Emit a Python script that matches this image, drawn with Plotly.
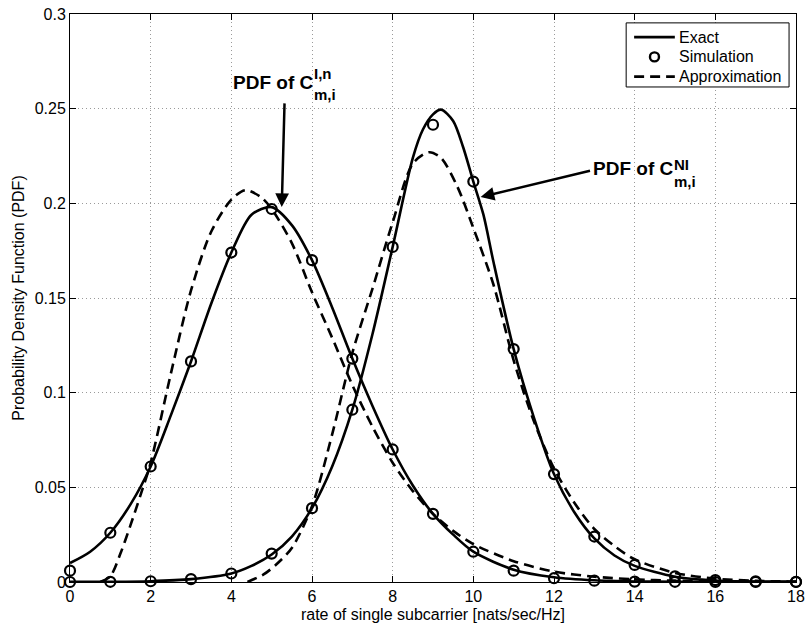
import plotly.graph_objects as go

# ---------------- data ----------------
x_sim = [0, 1, 2, 3, 4, 5, 6, 7, 8, 9, 10, 11, 12, 13, 14, 15, 16, 17, 18]
sim_in = [0.006, 0.026, 0.061, 0.1165, 0.174, 0.197, 0.170, 0.118, 0.070, 0.036,
          0.016, 0.006, 0.002, 0.0007, 0.0002, 0.0001, 0.0, 0.0, 0.0]
sim_ni = [0.0, 0.0001, 0.0004, 0.0015, 0.0045, 0.015, 0.039, 0.091, 0.177, 0.2415,
          0.2115, 0.123, 0.057, 0.024, 0.009, 0.003, 0.001, 0.0003, 0.0001]

x_ex_in = [0, 0.5, 1, 1.5, 2, 2.5, 3, 3.5, 4, 4.5, 5, 5.5, 6, 6.5, 7, 7.5, 8, 8.5,
           9, 9.5, 10, 11, 12, 13, 14, 15, 16, 17, 18]
ex_in = [0.010, 0.016, 0.026, 0.041, 0.061, 0.088, 0.1165, 0.147, 0.174, 0.194,
         0.198, 0.1885, 0.170, 0.145, 0.118, 0.093, 0.070, 0.051, 0.036, 0.025,
         0.016, 0.0065, 0.0025, 0.0009, 0.0003, 0.0001, 0.00003, 0.00001, 0.0]

x_ap_in = [0.75, 1.0, 1.25, 1.5, 1.75, 2.0, 2.5, 3.0, 3.5, 4.0, 4.35, 4.75, 5.0, 5.5,
           6.0, 6.5, 7.0, 7.5, 8.0, 8.5, 9.0, 9.5, 10, 11, 12, 13, 14, 15, 16, 17, 18]
ap_in = [0.0, 0.003, 0.015, 0.030, 0.046, 0.063, 0.110, 0.154, 0.185, 0.202, 0.207,
         0.203, 0.197, 0.179, 0.153, 0.129, 0.104, 0.082, 0.063, 0.048, 0.036, 0.027,
         0.020, 0.011, 0.0055, 0.0028, 0.0014, 0.0007, 0.0003, 0.0001, 0.00005]

x_ex_ni = [0, 1, 2, 3, 4, 4.5, 5, 5.5, 6, 6.5, 7, 7.5, 8, 8.5, 8.75, 9, 9.2, 9.5,
           9.75, 10, 10.25, 10.5, 11, 11.5, 12, 12.5, 13, 13.5, 14, 15, 16, 17, 18]
ex_ni = [0.00005, 0.0001, 0.0004, 0.0015, 0.0045, 0.0085, 0.0145, 0.024, 0.039,
         0.061, 0.091, 0.131, 0.177, 0.224, 0.239, 0.247, 0.2495, 0.2435, 0.2295,
         0.2115, 0.194, 0.169, 0.123, 0.087, 0.057, 0.037, 0.023, 0.014, 0.0085,
         0.0028, 0.0008, 0.0002, 0.00005]

x_ap_ni = [4.4, 4.8, 5.1, 5.5, 6.0, 6.5, 7.0, 7.5, 8.0, 8.5, 8.9, 9.2, 9.6,
           10.0, 10.5, 11.0, 11.5, 12.0, 12.5, 13.0, 13.5, 14, 15, 16, 17, 18]
ap_ni = [0.0, 0.004, 0.009, 0.018, 0.040, 0.078, 0.121, 0.155, 0.190,
         0.221, 0.227, 0.224, 0.209, 0.187, 0.157, 0.117, 0.085, 0.060, 0.042,
         0.028, 0.019, 0.012, 0.0048, 0.0018, 0.0006, 0.0002]

x_ticks = [0, 2, 4, 6, 8, 10, 12, 14, 16, 18]
y_ticks = [0, 0.05, 0.1, 0.15, 0.2, 0.25, 0.3]
y_tick_text = ["0", "0.05", "0.1", "0.15", "0.2", "0.25", "0.3"]

legend_names = ["Exact", "Simulation", "Approximation"]
x_label = "rate of single subcarrier [nats/sec/Hz]"
y_label = "Probability Density Function (PDF)"

# ---------------- figure ----------------
FONT = "Liberation Sans, Arial, Helvetica, sans-serif"
LW = 2.6
DASH = "10px,6px"
ML, MR, MT, MB, W, H = 70, 10, 6, 50, 811, 632
PW, PH = W - ML - MR, H - MT - MB


def px_x(p):
    return (p - ML) / PW


def px_y(p):
    return (H - MB - p) / PH


fig = go.Figure()

for xs, ys in [(x_ex_in, ex_in), (x_ex_ni, ex_ni)]:
    fig.add_trace(go.Scatter(
        x=xs, y=ys, mode="lines", name=legend_names[0], showlegend=False,
        line=dict(color="black", width=LW, shape="spline", smoothing=0.8)))

for ys in [sim_in, sim_ni]:
    fig.add_trace(go.Scatter(
        x=x_sim, y=ys, mode="markers", name=legend_names[1], showlegend=False,
        cliponaxis=False,
        marker=dict(symbol="circle-open", size=10, color="black",
                    line=dict(color="black", width=2.2))))

for xs, ys in [(x_ap_in, ap_in), (x_ap_ni, ap_ni)]:
    fig.add_trace(go.Scatter(
        x=xs, y=ys, mode="lines", name=legend_names[2], showlegend=False,
        line=dict(color="black", width=LW, dash=DASH, shape="spline",
                  smoothing=0.8)))

# arrows
fig.add_annotation(x=5.25, y=0.198, ax=5.32, ay=0.2536, axref="x", ayref="y",
                   xref="x", yref="y", text="", showarrow=True, arrowhead=2,
                   arrowsize=1.1, arrowwidth=2.5, arrowcolor="black")
fig.add_annotation(x=10.18, y=0.2033, ax=12.93, ay=0.2174, axref="x", ayref="y",
                   xref="x", yref="y", text="", showarrow=True, arrowhead=2,
                   arrowsize=1.1, arrowwidth=2.5, arrowcolor="black")

# annotation texts
big = dict(family=FONT, size=19, color="black")
small = dict(family=FONT, size=15, color="black")
texts = [
    (4.02, 0.2639, "<b>PDF of C</b>", big),
    (6.03, 0.2685, "<b>I,n</b>", small),
    (6.03, 0.2575, "<b>m,i</b>", small),
    (12.93, 0.2182, "<b>PDF of C</b>", big),
    (14.94, 0.2205, "<b>NI</b>", small),
    (14.94, 0.2115, "<b>m,i</b>", small),
]
for tx, ty, t, f in texts:
    fig.add_annotation(x=tx, y=ty, xref="x", yref="y", text=t, showarrow=False,
                       xanchor="left", yanchor="middle", font=f, borderpad=0)

# ---------------- legend box (MATLAB style) ----------------
fig.add_shape(type="rect", xref="paper", yref="paper",
              x0=px_x(630), x1=px_x(794), y0=px_y(80), y1=px_y(15),
              line=dict(color="black", width=1), fillcolor="white", layer="above")
rows = [29.5, 49.5, 69.5]
fig.add_shape(type="line", xref="paper", yref="paper",
              x0=px_x(638), x1=px_x(679), y0=px_y(rows[0]), y1=px_y(rows[0]),
              line=dict(color="black", width=LW), layer="above")
fig.add_shape(type="circle", xref="paper", yref="paper",
              xsizemode="pixel", ysizemode="pixel",
              xanchor=px_x(658.5), yanchor=px_y(rows[1]),
              x0=-4.5, x1=4.5, y0=-4.5, y1=4.5,
              line=dict(color="black", width=2.4), layer="above")
fig.add_shape(type="line", xref="paper", yref="paper",
              x0=px_x(638), x1=px_x(679), y0=px_y(rows[2]), y1=px_y(rows[2]),
              line=dict(color="black", width=LW, dash=DASH), layer="above")
for r, name in zip(rows, legend_names):
    fig.add_annotation(x=px_x(682), y=px_y(r), xref="paper", yref="paper",
                       text=name, showarrow=False, xanchor="left",
                       yanchor="middle", borderpad=0,
                       font=dict(family=FONT, size=16, color="black"))

axis_common = dict(
    showline=True, linecolor="black", linewidth=1, mirror="ticks",
    ticks="inside", ticklen=6, tickcolor="black", tickwidth=1,
    showgrid=True, gridcolor="#9a9a9a", gridwidth=1, griddash="1px,3px",
    zeroline=False, tickfont=dict(family=FONT, size=16, color="black"),
    ticklabeloverflow="allow",
)

fig.update_xaxes(range=[0, 18], tickvals=x_ticks, title=dict(
    text=x_label, font=dict(family=FONT, size=16, color="black"), standoff=4),
    **axis_common)
fig.update_yaxes(range=[0, 0.3], tickvals=y_ticks, ticktext=y_tick_text,
                 title=dict(text=y_label, font=dict(family=FONT, size=16,
                                                    color="black"), standoff=6),
                 **axis_common)

fig.update_layout(
    width=W, height=H,
    margin=dict(l=ML, r=MR, t=MT, b=MB),
    paper_bgcolor="white", plot_bgcolor="white",
    font=dict(family=FONT, size=16, color="black"),
    showlegend=False,
)

fig.write_html("out.html")
